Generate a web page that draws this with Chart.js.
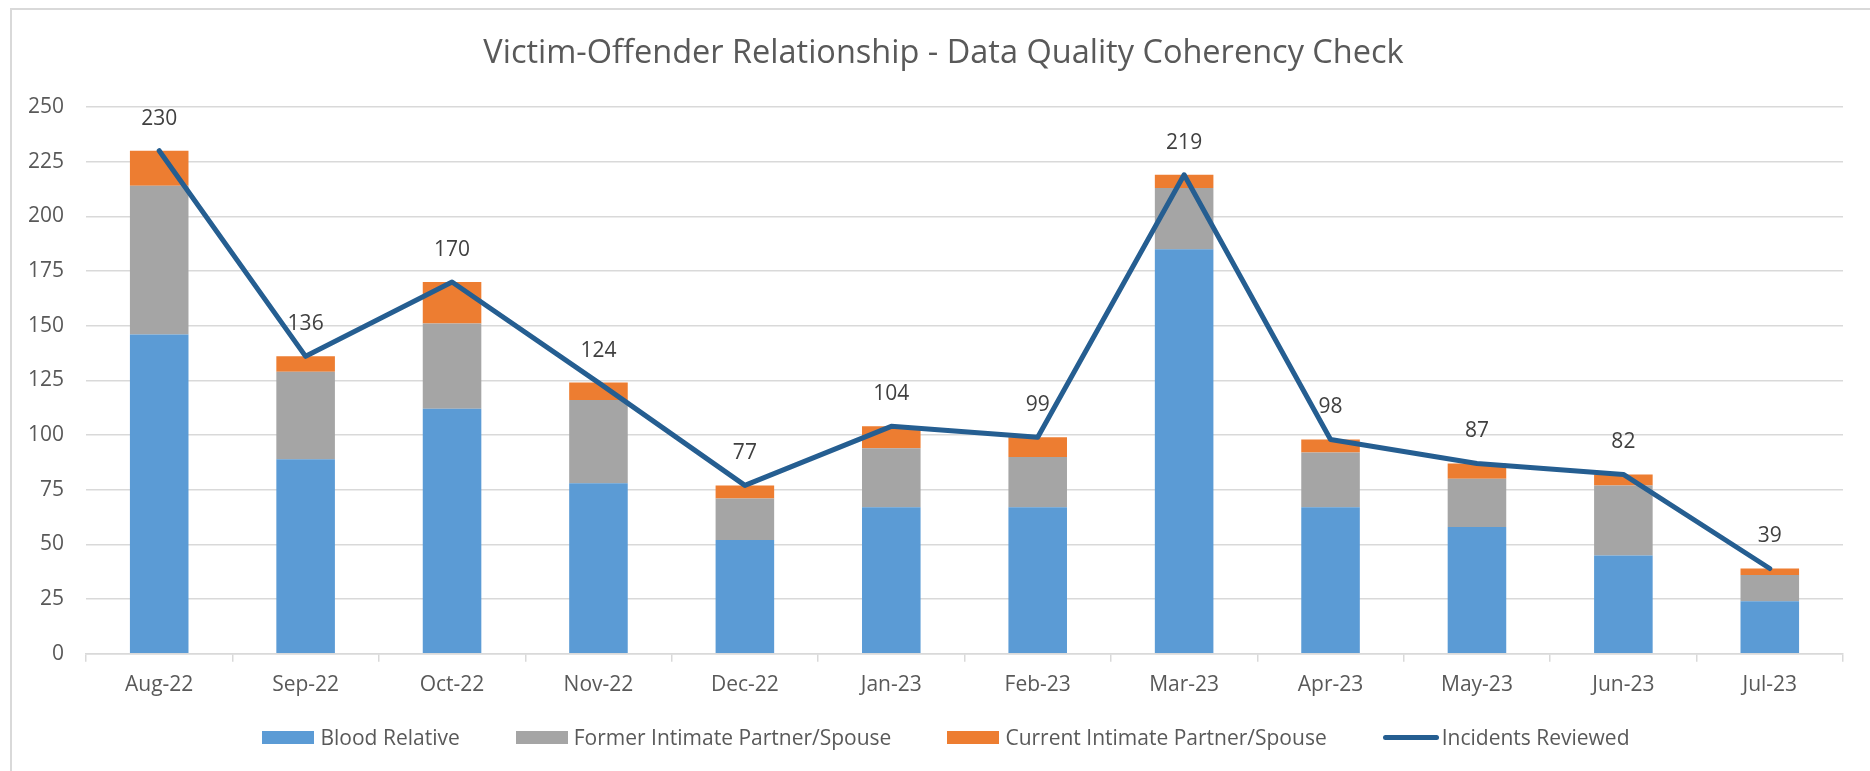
<!DOCTYPE html>
<html>
<head>
<meta charset="utf-8">
<script src="https://cdn.jsdelivr.net/npm/chart.js@4.4.1/dist/chart.umd.min.js"></script>
<style>
  html, body { margin: 0; padding: 0; background: #ffffff; }
  body { width: 1870px; height: 771px; position: relative; overflow: hidden; font-family: "Open Sans", sans-serif; }
  #frame { position: absolute; left: 10px; top: 8px; width: 1900px; height: 800px; border-left: 2px solid #d9d9d9; border-top: 2px solid #d9d9d9; box-sizing: border-box; }
  #wrap { position: absolute; left: 0; top: 0; width: 1870px; height: 771px; }
  #legend { position: absolute; left: 0; width: 1892px; top: 722px; height: 31px; display: flex; justify-content: center; align-items: center; }
  .item { display: flex; align-items: center; margin: 0 28px; color: #595959; font-size: 21px; line-height: 1; white-space: nowrap; }
  .sw { width: 52px; height: 13px; margin-right: 6px; }
  .ln { width: 56px; height: 5.5px; border-radius: 3px; margin-right: 3px; }
</style>
</head>
<body>
<div id="frame"></div>
<div id="wrap"><canvas id="c"></canvas></div>
<div id="legend"></div>
<script>
const categories = ['Aug-22','Sep-22','Oct-22','Nov-22','Dec-22','Jan-23','Feb-23','Mar-23','Apr-23','May-23','Jun-23','Jul-23'];
const bloodRelative = [146, 89, 112, 78, 52, 67, 67, 185, 67, 58, 45, 24];
const formerPartner = [68, 40, 39, 38, 19, 27, 23, 28, 25, 22, 32, 12];
const currentPartner = [16, 7, 19, 8, 6, 10, 9, 6, 6, 7, 5, 3];
const incidentsReviewed = [230, 136, 170, 124, 77, 104, 99, 219, 98, 87, 82, 39];
const yTicks = [0, 25, 50, 75, 100, 125, 150, 175, 200, 225, 250];

const FONT = '"Open Sans", sans-serif';
const TEXT = '#595959';
const GRID = '#d9d9d9';

const lineLabels = {
  id: 'lineLabels',
  afterDatasetsDraw(chart) {
    const meta = chart.getDatasetMeta(3);
    const ctx = chart.ctx;
    ctx.save();
    ctx.font = '21px ' + FONT;
    ctx.fillStyle = '#404040';
    ctx.textAlign = 'center';
    ctx.textBaseline = 'middle';
    meta.data.forEach((pt, i) => {
      ctx.fillText(String(incidentsReviewed[i]), pt.x, pt.y - 32);
    });
    ctx.restore();
  }
};

// the title in the reference is centred on the whole chart frame, slightly right of the canvas centre
const titleShift = {
  id: 'titleShift',
  afterLayout(chart) {
    const t = chart.titleBlock;
    if (t) { t.left += 22; t.right += 22; }
  }
};

const chart = new Chart(document.getElementById('c'), {
  type: 'bar',
  data: {
    labels: categories,
    datasets: [
      { label: 'Blood Relative', data: bloodRelative, backgroundColor: '#5b9bd5', stack: 'bars', order: 1, barPercentage: 0.4, categoryPercentage: 1 },
      { label: 'Former Intimate Partner/Spouse', data: formerPartner, backgroundColor: '#a5a5a5', stack: 'bars', order: 1, barPercentage: 0.4, categoryPercentage: 1 },
      { label: 'Current Intimate Partner/Spouse', data: currentPartner, backgroundColor: '#ed7d31', stack: 'bars', order: 1, barPercentage: 0.4, categoryPercentage: 1 },
      { type: 'line', label: 'Incidents Reviewed', data: incidentsReviewed, borderColor: '#255e91', backgroundColor: '#255e91', borderWidth: 5, pointRadius: 0, pointHoverRadius: 0, tension: 0, stack: 'line', order: 0, borderJoinStyle: 'round', borderCapStyle: 'round' }
    ]
  },
  options: {
    responsive: true,
    maintainAspectRatio: false,
    animation: false,
    layout: { padding: { left: 0, right: 27, top: 0, bottom: 62 } },
    plugins: {
      legend: { display: false },
      tooltip: { enabled: false },
      title: {
        display: true,
        text: 'Victim-Offender Relationship - Data Quality Coherency Check',
        color: TEXT,
        font: { family: FONT, size: 32.5, weight: 'normal' },
        padding: { top: 34, bottom: 34 }
      }
    },
    scales: {
      x: {
        stacked: true,
        offset: true,
        grid: { display: true, drawOnChartArea: false, drawTicks: true, tickLength: 8, color: GRID, lineWidth: 1.5 },
        border: { display: true, color: GRID, width: 1.5 },
        ticks: { color: TEXT, font: { family: FONT, size: 21 }, padding: 11, maxRotation: 0 }
      },
      y: {
        stacked: true,
        min: 0,
        max: 250,
        afterFit(scale) { scale.width = 86; },
        afterBuildTicks(scale) { scale.ticks = yTicks.map(v => ({ value: v })); },
        grid: { color: GRID, lineWidth: 1.5, drawTicks: false },
        border: { display: false },
        ticks: { color: TEXT, font: { family: FONT, size: 21 }, padding: 22 }
      }
    }
  },
  plugins: [lineLabels, titleShift]
});

// legend built from the chart datasets
const legendEl = document.getElementById('legend');
chart.data.datasets.forEach(ds => {
  const item = document.createElement('div');
  item.className = 'item';
  const sw = document.createElement('span');
  if (ds.type === 'line') {
    sw.className = 'ln';
    sw.style.background = ds.borderColor;
  } else {
    sw.className = 'sw';
    sw.style.background = ds.backgroundColor;
  }
  const tx = document.createElement('span');
  tx.textContent = ds.label;
  item.appendChild(sw);
  item.appendChild(tx);
  legendEl.appendChild(item);
});
</script>
</body>
</html>
